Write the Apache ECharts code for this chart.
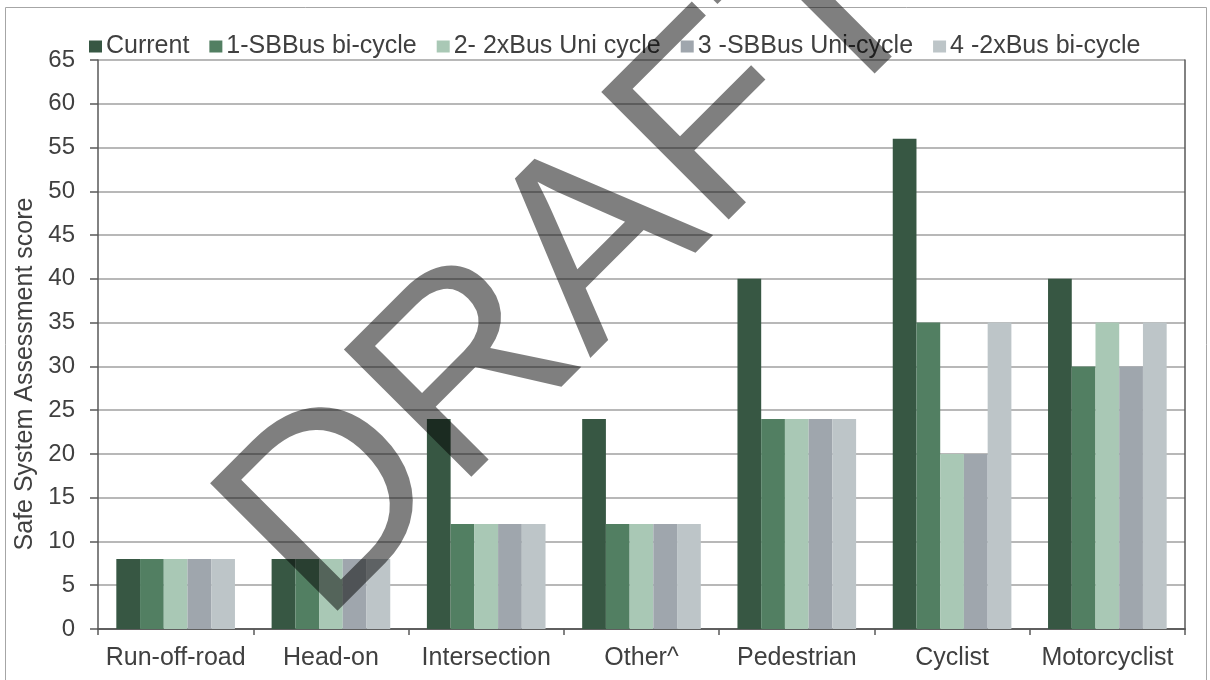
<!DOCTYPE html>
<html>
<head>
<meta charset="utf-8">
<script src="https://cdn.jsdelivr.net/npm/echarts@6/dist/echarts.min.js"></script>
<style>
  html, body { margin: 0; padding: 0; background: #fff; }
  #chart { width: 1210px; height: 680px; }
</style>
</head>
<body>
<div id="chart"></div>
<script>
const categories = ['Run-off-road', 'Head-on', 'Intersection', 'Other^', 'Pedestrian', 'Cyclist', 'Motorcyclist'];
const seriesNames = ['Current', '1-SBBus bi-cycle', '2- 2xBus Uni cycle', '3 -SBBus Uni-cycle', '4 -2xBus bi-cycle'];
const current   = [8, 8, 24, 24, 40, 56, 40];
const sbBusBi   = [8, 8, 12, 12, 24, 35, 30];
const xBusUni   = [8, 8, 12, 12, 24, 20, 35];
const sbBusUni  = [8, 8, 12, 12, 24, 20, 30];
const xBusBi    = [8, 8, 12, 12, 24, 35, 35];
const yTicks = { min: 0, max: 65, interval: 5 };

const seriesValues = [current, sbBusBi, xBusUni, sbBusUni, xBusBi];
const colors = ['#375743', '#527f62', '#a9c8b5', '#9fa6ad', '#bdc5c8'];

const chart = echarts.init(document.getElementById('chart'));
const font = 'Liberation Sans, Arial, sans-serif';
const textColor = '#404040';
const frameColor = '#595959';

const option = {
    animation: false,
    color: colors,
    textStyle: { fontFamily: font },
    legend: {
        left: 84,
        top: 29,
        itemWidth: 13,
        itemHeight: 12,
        itemGap: 20,
        icon: 'rect',
        textStyle: { fontSize: 25, color: textColor, padding: [0, 0, 0, -1] },
        data: seriesNames
    },
    grid: { left: 98, right: 25, top: 60, bottom: 51, containLabel: false },
    xAxis: [
        {
            type: 'category',
            data: categories,
            axisLine: { lineStyle: { color: frameColor, width: 1.5 } },
            axisTick: { show: true, length: 6, lineStyle: { color: frameColor, width: 1.5 } },
            axisLabel: { fontSize: 25, color: textColor, margin: 17, interval: 0 }
        },
        {
            type: 'category',
            position: 'top',
            data: categories,
            axisLine: { lineStyle: { color: frameColor, width: 1.5 } },
            axisTick: { show: false },
            axisLabel: { show: false }
        }
    ],
    yAxis: [
        {
            type: 'value',
            min: yTicks.min,
            max: yTicks.max,
            interval: yTicks.interval,
            axisLine: { show: true, lineStyle: { color: frameColor, width: 1.5 } },
            axisTick: { show: true, length: 8, lineStyle: { color: frameColor, width: 1.5 } },
            axisLabel: { fontSize: 24, color: textColor, margin: 23 },
            splitLine: { lineStyle: { color: '#a0a0a0', width: 1.5 } }
        },
        {
            type: 'value',
            position: 'right',
            min: yTicks.min,
            max: yTicks.max,
            interval: yTicks.interval,
            axisLine: { show: true, lineStyle: { color: frameColor, width: 1.5 } },
            axisTick: { show: false },
            axisLabel: { show: false },
            splitLine: { show: false }
        }
    ],
    series: seriesNames.map((name, i) => ({
        name: name,
        type: 'bar',
        data: seriesValues[i],
        barGap: '0%',
        barCategoryGap: '23.6%',
        itemStyle: { color: colors[i] }
    })),
    graphic: [
        {
            type: 'rect',
            shape: { x: 5.5, y: 7.5, width: 1201, height: 700 },
            style: { fill: 'none', stroke: '#a6a6a6', lineWidth: 1 },
            z: -1
        },
        {
            type: 'text',
            x: 25,
            y: 374,
            rotation: Math.PI / 2,
            style: {
                text: 'Safe System Assessment score',
                font: '25px ' + font,
                fill: textColor,
                textAlign: 'center',
                textVerticalAlign: 'middle'
            }
        },
        {
            type: 'text',
            x: 580,
            y: 266,
            rotation: Math.PI / 4,
            style: {
                text: 'DRAFT',
                font: '262px ' + font,
                fill: 'rgba(0,0,0,0.5)',
                textAlign: 'center',
                textVerticalAlign: 'middle'
            },
            z: 100
        }
    ]
};

chart.setOption(option);
window.addEventListener('resize', () => chart.resize());
</script>
</body>
</html>
